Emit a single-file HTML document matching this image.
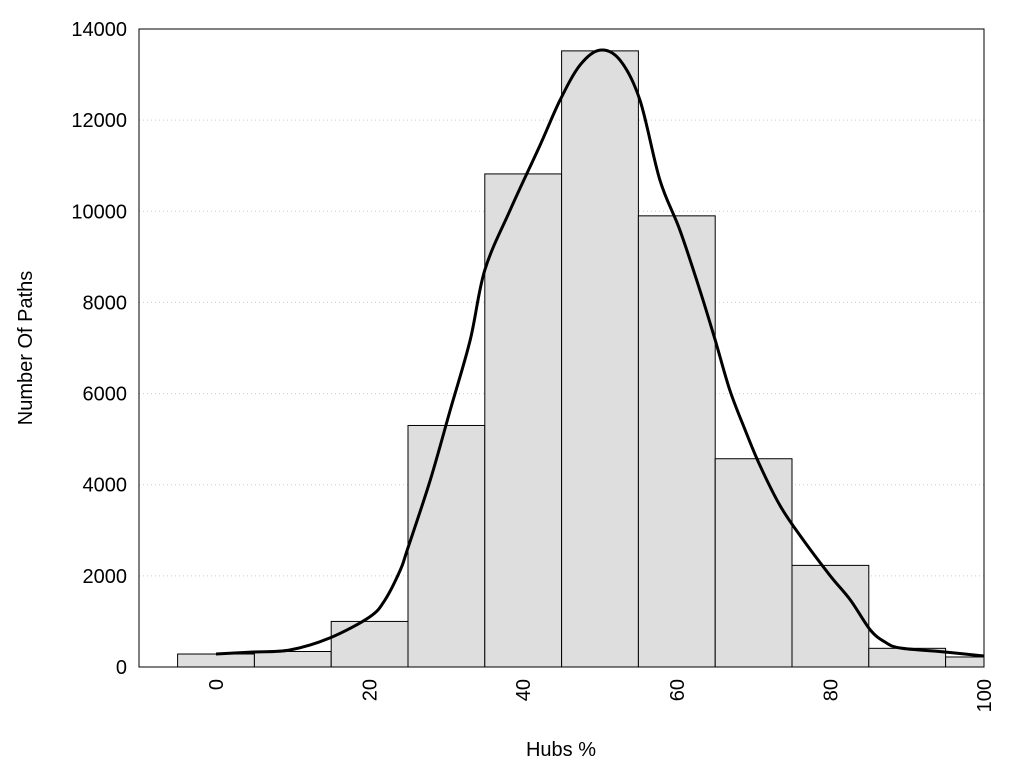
<!DOCTYPE html>
<html><head><meta charset="utf-8">
<style>
body{margin:0;background:#fff;}
svg{display:block;font-family:"Liberation Sans",Arial,sans-serif;}
</style></head>
<body>
<svg id="chart" width="1024" height="768"></svg>
<script>
const binCenters=[0,10,20,30,40,50,60,70,80,90,100];
const binCounts=[285,340,1000,5300,10820,13520,9900,4570,2230,410,220];
const curveX=[0,4.9,9.6,14.8,20,22,24,24.9,27.9,30.5,33.1,35,38.3,42.2,44.8,47.4,50,52.6,55.2,57.8,60.4,63,65,66.9,68.9,70.8,73.4,76,79.9,82.6,85.2,87.1,89.1,94.9,100];
const curveY=[285,329,373,636,1097,1470,2128,2567,4103,5639,7175,8710,10027,11453,12440,13208,13537,13318,12440,10685,9588,8272,7175,6077,5200,4432,3554,2896,2018,1470,812,549,417,329,241];
const yTicks=[0,2000,4000,6000,8000,10000,12000,14000];
const xTicks=[0,20,40,60,80,100];

const NS="http://www.w3.org/2000/svg";
const svg=document.getElementById('chart');
const L=139,R=984,T=29,B=667;
const sx=v=>216+v*7.68;
const sy=v=>B-v*(B-T)/14000;
function mk(tag,attrs,parent){const e=document.createElementNS(NS,tag);for(const k in attrs)e.setAttribute(k,attrs[k]);(parent||svg).appendChild(e);return e;}

const defs=mk('defs',{});
const cp=mk('clipPath',{id:'plotclip'},defs);
mk('rect',{x:L,y:T,width:R-L,height:B-T},cp);

// gridlines
yTicks.forEach(t=>{
  if(t>0&&t<14000){
    const g=mk('line',{x1:L,x2:R,y1:sy(t),y2:sy(t),stroke:'#ccc','stroke-width':1,'stroke-dasharray':'1,3'});
    
    
  }
  const tx=mk('text',{x:L-12,y:sy(t)+7,'text-anchor':'end','font-size':20,fill:'#000'});
  tx.textContent=t;
  
  
});

// bars
const barG=mk('g',{'clip-path':'url(#plotclip)'});
binCenters.forEach((c,i)=>{
  const x0=sx(c-5),x1=sx(c+5);
  const r=mk('rect',{x:x0,y:sy(binCounts[i]),width:x1-x0,height:B-sy(binCounts[i]),fill:'#dedede',stroke:'#000','stroke-width':1},barG);
  
  
});

// curve (Catmull-Rom smoothing)
const pts=curveX.map((x,i)=>[sx(x),sy(curveY[i])]);
let d='M'+pts[0][0]+','+pts[0][1];
for(let i=0;i<pts.length-1;i++){
  const p0=pts[Math.max(0,i-1)],p1=pts[i],p2=pts[i+1],p3=pts[Math.min(pts.length-1,i+2)];
  const c1=[p1[0]+(p2[0]-p0[0])/6,p1[1]+(p2[1]-p0[1])/6];
  const c2=[p2[0]-(p3[0]-p1[0])/6,p2[1]-(p3[1]-p1[1])/6];
  d+=' C'+c1+' '+c2+' '+p2;
}
const path=mk('path',{d:d,fill:'none',stroke:'#000','stroke-width':3,'clip-path':'url(#plotclip)'});



// frame
const fr=mk('rect',{x:L,y:T,width:R-L,height:B-T,fill:'none',stroke:'#000','stroke-width':1});



// x ticks
xTicks.forEach(t=>{
  const x=sx(t)+7,y=B+12;
  const tx=mk('text',{x:x,y:y,'text-anchor':'end','font-size':20,fill:'#000',transform:'rotate(-90 '+x+' '+y+')'});
  tx.textContent=t;
  
  
});

const xt=mk('text',{x:561,y:756,'text-anchor':'middle','font-size':20,fill:'#000'});
xt.textContent='Hubs %';


const yt=mk('text',{x:32,y:348,'text-anchor':'middle','font-size':20,fill:'#000',transform:'rotate(-90 32 348)'});
yt.textContent='Number Of Paths';


</script>
</body></html>
